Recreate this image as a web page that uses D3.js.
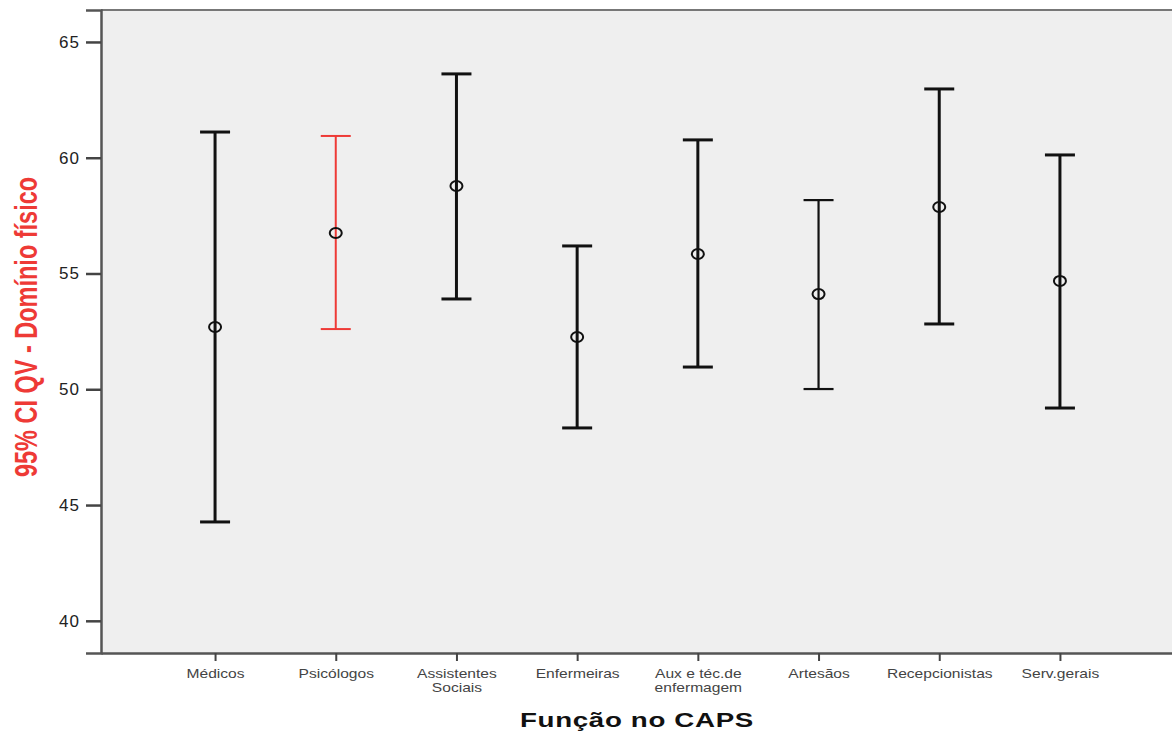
<!DOCTYPE html>
<html>
<head>
<meta charset="utf-8">
<script src="https://cdn.jsdelivr.net/npm/d3@7"></script>
<style>
  body { margin: 0; background: #fff; }
  svg { display: block; }
</style>
</head>
<body>
<div id="chart"></div>
<script>
var categories = ["Médicos", "Psicólogos", "Assistentes Sociais", "Enfermeiras", "Aux e téc.de enfermagem", "Artesãos", "Recepcionistas", "Serv.gerais"];
var means = [52.69, 56.75, 58.78, 52.26, 55.84, 54.11, 57.87, 54.68];
var lower = [44.27, 52.60, 53.90, 48.33, 50.96, 50.01, 52.82, 49.19];
var upper = [61.11, 60.94, 63.62, 56.19, 60.77, 58.17, 62.97, 60.12];
var yTicks = [40, 45, 50, 55, 60, 65];

var width = 1172,
    height = 734,
    margin = {top: 10, left: 101, bottom: 81, right: -2};

var data = categories.map(function(c, i) {
  return {label: c, mean: means[i], lo: lower[i], hi: upper[i]};
});

var x = d3.scalePoint()
  .domain(categories)
  .range([margin.left, width - margin.right])
  .padding(0.945);

var y = d3.scaleLinear()
  .domain([38.61, 66.38])
  .range([height - margin.bottom, margin.top]);

var svg = d3.select("#chart")
  .append("svg")
  .attr("width", width)
  .attr("height", height);

// plot background + frame
svg.append("rect")
  .attr("x", margin.left)
  .attr("y", margin.top)
  .attr("width", width - margin.left - margin.right)
  .attr("height", height - margin.top - margin.bottom)
  .attr("fill", "#efefef");

svg.append("line")
  .attr("x1", margin.left).attr("x2", width)
  .attr("y1", margin.top).attr("y2", margin.top)
  .attr("stroke", "#777").attr("stroke-width", 2);

// y axis
var yAxis = svg.append("g")
  .attr("transform", "translate(" + margin.left + ",0)")
  .call(d3.axisLeft(y).tickValues(yTicks).tickSize(15).tickPadding(6));
yAxis.select(".domain").attr("stroke", "#555").attr("stroke-width", 2.5);
yAxis.selectAll(".tick line").attr("stroke", "#444").attr("stroke-width", 2.5);
yAxis.selectAll(".tick text")
  .attr("font-family", "Liberation Sans, Arial, sans-serif")
  .attr("font-size", 17)
  .attr("letter-spacing", 1)
  .attr("fill", "#222");

// x axis
var xAxis = svg.append("g")
  .attr("transform", "translate(0," + (height - margin.bottom) + ")")
  .call(d3.axisBottom(x).tickSize(8).tickSizeOuter(0).tickFormat(""));
xAxis.select(".domain").attr("stroke", "#555").attr("stroke-width", 2.5);
xAxis.selectAll(".tick line").attr("stroke", "#444").attr("stroke-width", 2);

// x tick labels, wrapped like the original
var wrap = {
  "Assistentes Sociais": ["Assistentes", "Sociais"],
  "Aux e téc.de enfermagem": ["Aux e téc.de", "enfermagem"]
};
xAxis.selectAll(".tick").each(function(d) {
  var lines = wrap[d] || [d];
  var t = d3.select(this).append("text")
    .attr("transform", "translate(0,25) scale(1.3,1)")
    .attr("text-anchor", "middle")
    .attr("font-family", "Liberation Sans, Arial, sans-serif")
    .attr("font-size", 12)
    .attr("fill", "#444");
  lines.forEach(function(l, i) {
    t.append("tspan").attr("x", 0).attr("dy", i === 0 ? 0 : 14).text(l);
  });
});

// error bars
var capW = 15;
var g = svg.selectAll(".bar")
  .data(data)
  .enter().append("g")
  .attr("class", "bar")
  .attr("stroke", function(d) { return d.label === "Psicólogos" ? "#ee3a36" : "#111"; })
  .attr("stroke-width", function(d) {
    if (d.label === "Psicólogos") return 2;
    if (d.label === "Artesãos") return 2.2;
    return 3;
  })
  .attr("fill", "none");

g.append("line")
  .attr("x1", function(d) { return x(d.label); })
  .attr("x2", function(d) { return x(d.label); })
  .attr("y1", function(d) { return y(d.hi); })
  .attr("y2", function(d) { return y(d.lo); });

g.append("line")
  .attr("x1", function(d) { return x(d.label) - capW; })
  .attr("x2", function(d) { return x(d.label) + capW; })
  .attr("y1", function(d) { return y(d.hi); })
  .attr("y2", function(d) { return y(d.hi); });

g.append("line")
  .attr("x1", function(d) { return x(d.label) - capW; })
  .attr("x2", function(d) { return x(d.label) + capW; })
  .attr("y1", function(d) { return y(d.lo); })
  .attr("y2", function(d) { return y(d.lo); });

g.append("ellipse")
  .attr("cx", function(d) { return x(d.label); })
  .attr("cy", function(d) { return y(d.mean); })
  .attr("rx", 6)
  .attr("ry", 5)
  .attr("stroke", "#111")
  .attr("stroke-width", 2)
  .attr("fill", "none");

// axis titles
svg.append("text")
  .attr("transform", "translate(637,727) scale(1.32,1)")
  .attr("text-anchor", "middle")
  .attr("font-family", "Liberation Sans, Arial, sans-serif")
  .attr("font-weight", "bold")
  .attr("font-size", 21)
  .attr("letter-spacing", 0.5)
  .attr("fill", "#111")
  .text("Função no CAPS");

svg.append("text")
  .attr("transform", "translate(37,327) scale(1.35,1) rotate(-90)")
  .attr("text-anchor", "middle")
  .attr("font-family", "Liberation Sans, Arial, sans-serif")
  .attr("font-weight", "bold")
  .attr("font-size", 23.5)
  .attr("fill", "#ee3a36")
  .text("95% CI QV - Domínio físico");
</script>
</body>
</html>
